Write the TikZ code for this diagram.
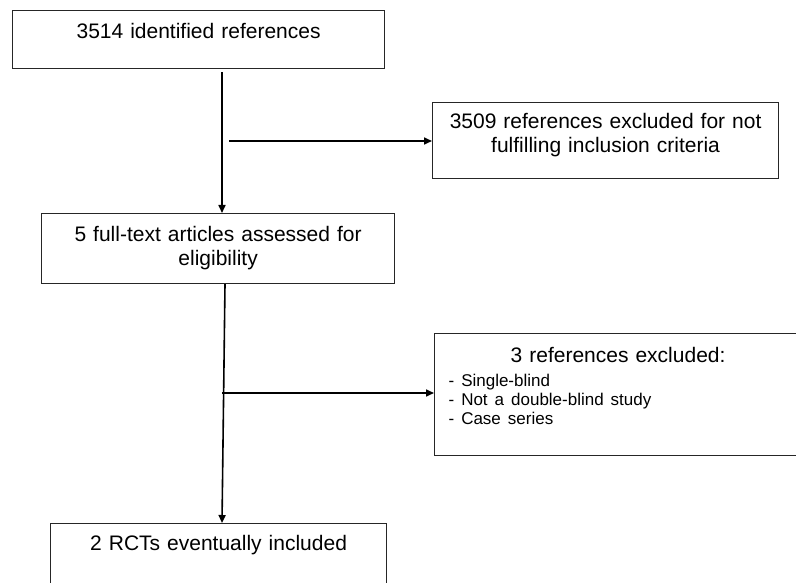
\documentclass[tikz,border=0pt]{standalone}
\usepackage{fontspec}
\setmainfont{Liberation Sans}
\usetikzlibrary{arrows.meta}

\begin{document}
\begin{tikzpicture}[x=1pt, y=-1pt, >={Triangle[length=8pt,width=7pt]},
    box/.style={draw=black!85, line width=1.2pt, anchor=north west, inner sep=0pt,
      align=center, font=\fontsize{21}{23.5}\selectfont},
    link/.style={->, line width=1.6pt}]
  \useasboundingbox (0,0) rectangle (796,583);
  \clip (0,0) rectangle (796,583);

  \node[box, text width=372pt, text height=28pt, text depth=30pt] (ident) at (12,10)
    {3514 identified references};
  \node[box, text width=346pt, text height=26pt, text depth=50pt] (excl1) at (432,102)
    {3509 references excluded for not\\fulfilling inclusion criteria};
  \node[box, text width=353pt, text height=28pt, text depth=42pt] (full) at (41,213)
    {5 full-text articles assessed for\\eligibility};
  \node[box, text width=367pt, text height=29pt, text depth=93pt] (excl2) at (434,333)
    {3 references excluded:\\
     \parbox[t]{339pt}{\raggedright\fontsize{17}{19}\selectfont
       \begin{tabular}[t]{@{}l@{}}- Single-blind\\- Not a double-blind study\\- Case series\end{tabular}}};
  \node[box, text width=336pt, text height=27pt, text depth=60pt] (incl) at (50,523)
    {2 RCTs eventually included};

  % trunk and side branches
  \coordinate (b1) at (229,141);
  \coordinate (b2) at (222,393);
  \draw[link, shorten <=3pt] (ident.south -| 222,0) -- (full.north -| 222,0);
  \draw[link] (b1) -- (b1 -| excl1.west);
  \draw[link] (full.south -| 225,0) -- (incl.north -| 222,0);
  \draw[link] (b2) -- (b2 -| excl2.west);
\end{tikzpicture}
\end{document}
